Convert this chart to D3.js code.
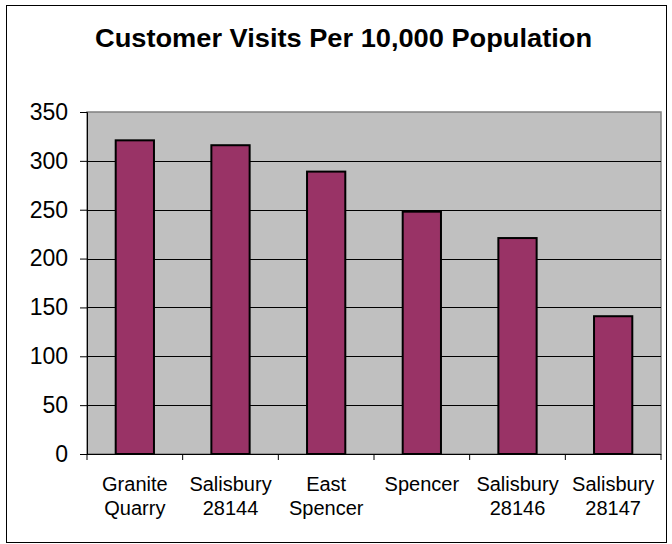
<!DOCTYPE html>
<html><head><meta charset="utf-8">
<script src="https://cdn.jsdelivr.net/npm/d3@7"></script>
<style>body{margin:0;background:#fff;}svg{display:block;}text{font-family:"Liberation Sans",Arial,sans-serif;}</style>
</head><body>
<svg id="c" width="672" height="544"></svg>
<script>
const categories = [["Granite","Quarry"],["Salisbury","28144"],["East","Spencer"],["Spencer"],["Salisbury","28146"],["Salisbury","28147"]];
const values = [321, 316, 289, 248, 221, 141];
const yTicks = [0,50,100,150,200,250,300,350];
const title = "Customer Visits Per 10,000 Population";

const svg = d3.select("#c");
const m = {left: 87, top: 112, right: 661, bottom: 454};
svg.append("rect").attr("x",6.5).attr("y",5.5).attr("width",660).attr("height",537)
  .attr("fill","#fff").attr("stroke","#000").attr("stroke-width",1);
svg.append("text").attr("x",95).attr("y",47).attr("text-anchor","start")
  .attr("font-size","25px").attr("font-weight","bold")
  .attr("textLength",497).attr("lengthAdjust","spacingAndGlyphs").text(title);

const x = d3.scaleBand().domain(d3.range(categories.length)).range([m.left,m.right]).paddingInner(0.6).paddingOuter(0.3);
const y = d3.scaleLinear().domain([0,350]).range([m.bottom,m.top]);

svg.append("rect").attr("x",m.left).attr("y",m.top).attr("width",m.right-m.left).attr("height",m.bottom-m.top)
  .attr("fill","#C0C0C0").attr("stroke","#808080").attr("stroke-width",1.5);
svg.append("g").selectAll("line").data(yTicks.filter(d=>d>0 && d<350)).join("line")
  .attr("x1",m.left).attr("x2",m.right).attr("y1",d=>Math.round(y(d))+0.5).attr("y2",d=>Math.round(y(d))+0.5)
  .attr("stroke","#000").attr("stroke-width",1);

svg.append("g").selectAll("rect").data(values).join("rect")
  .attr("x",(d,i)=>x(i)).attr("y",d=>y(d)).attr("width",x.bandwidth()).attr("height",d=>y(0)-y(d))
  .attr("fill","#993366").attr("stroke","#000").attr("stroke-width",2);

const yAxis = d3.axisLeft(y).tickValues(yTicks).tickSize(7).tickPadding(12);
const gy = svg.append("g").attr("transform",`translate(${m.left},0)`).call(yAxis);
gy.select(".domain").attr("stroke","#000");
gy.selectAll("text").attr("font-size","23px").attr("fill","#000").attr("font-family","Liberation Sans, Arial, sans-serif");

// x axis with ticks at band boundaries
const bounds = d3.range(categories.length+1).map(i=> m.left + i*(m.right-m.left)/categories.length);
const gx = svg.append("g");
gx.append("line").attr("x1",m.left).attr("x2",m.right).attr("y1",m.bottom+0.5).attr("y2",m.bottom+0.5).attr("stroke","#000");
gx.selectAll("line.t").data(bounds).join("line").attr("class","t")
  .attr("x1",d=>d).attr("x2",d=>d).attr("y1",m.bottom).attr("y2",m.bottom+6).attr("stroke","#000");
const lab = gx.selectAll("text").data(categories).join("text")
  .attr("text-anchor","middle").attr("font-size","20px")
  .attr("transform",(d,i)=>`translate(${x(i)+x.bandwidth()/2},0)`);
lab.each(function(d){
  const t = d3.select(this);
  d.forEach((s,j)=>t.append("tspan").attr("x",0).attr("y",491+j*24).text(s));
});
</script>
</body></html>
